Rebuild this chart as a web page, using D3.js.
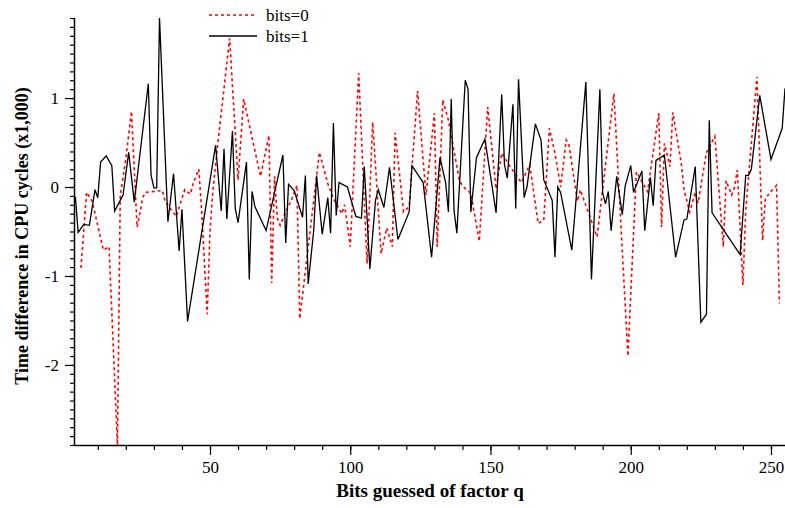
<!DOCTYPE html>
<html>
<head>
<meta charset="utf-8">
<script src="https://cdn.jsdelivr.net/npm/d3@7"></script>
<style>
  body { margin: 0; background: #fff; }
  text { font-family: "Liberation Serif", "Times New Roman", serif; }
</style>
</head>
<body>
<div id="root"></div>
<script>
// bits=0 (red dotted): [bit index, time difference x1000]
const bits0 = [[4,-0.91],[6,-0.06],[8,-0.16],[12,-0.71],[14,-0.67],[17,-2.9],[18,-0.10],[20,0.32],[22,0.85],
  [24,-0.45],[25,-0.30],[26,-0.12],[27,-0.06],[33,-0.04],[34,-0.16],[36,-0.25],[38,-0.33],[41,-0.03],[43,-0.08],
  [44,0.04],[46,0.20],[47,-0.25],[49,-1.43],[50,-0.5],[51,-0.05],[53,0.55],[57,1.67],[60,0.08],[62,0.99],[68,0.12],
  [71,0.58],[72,-1.08],[73,0.12],[74,-0.35],[75,-0.43],[77,-0.28],[79,-0.15],[81,0.02],[82,-1.48],[89,0.39],
  [92,0.04],[94,-0.13],[97,-0.30],[98,-0.20],[100,-0.67],[103,1.28],[106,-0.86],[108,0.73],[111,-0.75],[113,-0.46],
  [115,-0.67],[116,0.61],[119,-0.28],[121,-0.22],[124,1.08],[127,-0.09],[130,0.83],[131,-0.67],[133,0.98],[135,0.75],
  [139,0.06],[141,-0.02],[143,-0.07],[146,-0.61],[149,0.90],[152,-0.02],[154,0.38],[157,0.23],[161,0.05],[164,0.25],
  [167,-0.41],[169,-0.37],[171,0.66],[173,0.38],[175,0.0],[177,0.53],[178,0.47],[181,-0.16],[182,-0.03],[188,-0.56],
  [194,1.05],[199,-1.90],[202,0.17],[206,-0.05],[210,0.83],[211,-0.45],[212,0.49],[214,0.23],[215,0.84],[218,0.27],
  [219,-0.03],[221,-0.28],[223,-0.06],[224,-0.18],[227,0.39],[230,0.57],[233,-0.67],[234,0.07],[236,-0.09],[237,0.00],
  [238,0.19],[240,-1.10],[241,-0.26],[245,1.24],[247,-0.60],[248,-0.13],[250,-0.05],[252,0.02],[253,-1.31]];

// bits=1 (black solid)
const bits1 = [[2,-0.11],[3,-0.51],[5,-0.42],[7,-0.43],[9,-0.03],[10,-0.12],[11,0.28],[13,0.35],[15,0.24],[16,-0.27],
  [19,-0.09],[21,0.39],[23,-0.17],[28,1.16],[29,0.13],[30,-0.01],[31,-0.01],[32,1.9],[35,-0.39],[37,0.15],[39,-0.72],
  [40,-0.25],[42,-1.51],[52,0.47],[54,-0.27],[55,0.43],[56,-0.36],[58,0.63],[59,-0.24],[60,-0.40],[63,0.28],[64,-1.04],
  [65,-0.05],[66,-0.22],[70,-0.49],[76,0.36],[77,-0.63],[78,0.03],[80,-0.04],[83,-0.34],[84,0.13],[85,-1.09],[87,-0.48],
  [88,0.13],[90,-0.53],[92,-0.12],[93,-0.52],[94,0.72],[95,-0.32],[96,0.05],[99,0.00],[102,-0.33],[104,-0.35],[105,0.23],
  [107,-0.92],[109,-0.15],[110,-0.03],[112,-0.23],[114,0.22],[117,-0.59],[121,-0.28],[122,0.24],[126,0.05],[129,-0.79],
  [132,0.33],[134,0.05],[135,-0.28],[136,0.99],[137,-0.26],[138,-0.52],[141,1.20],[142,1.10],[143,-0.28],[145,0.33],
  [148,0.54],[152,-0.29],[154,1.04],[155,0.25],[156,0.10],[158,0.93],[159,-0.24],[160,1.21],[162,-0.12],[163,0.00],
  [166,0.71],[168,0.53],[169,0.08],[172,-0.15],[173,-0.79],[174,0.00],[175,-0.06],[179,-0.71],[184,1.18],[186,-1.04],
  [189,1.10],[190,-0.07],[191,-0.19],[192,-0.05],[193,-0.49],[195,0.12],[197,-0.31],[198,0.01],[200,0.24],[201,-0.06],
  [204,0.18],[205,-0.49],[207,0.11],[208,-0.21],[209,0.30],[212,0.36],[216,-0.79],[219,-0.37],[220,-0.36],[223,0.23],
  [225,-1.52],[227,-1.43],[228,0.75],[229,-0.29],[239,-0.76],[241,0.13],[242,0.13],[243,0.20],[246,1.03],[250,0.31],
  [254,0.66],[255,1.11]];

const xTicks = [50, 100, 150, 200, 250];
const yTicks = [-2, -1, 0, 1];
const legendLabels = ["bits=0", "bits=1"];
const xTitle = "Bits guessed of factor q";
const yTitle = "Time difference in CPU cycles (x1,000)";

const w = 785;
const h = 508;
const plotL = 75, plotR = 785, plotT = 18, plotB = 445;
const serif = '"Liberation Serif", "Times New Roman", serif';

const svg = d3.select("#root")
    .append("svg")
    .attr("width", w)
    .attr("height", h);

const x = d3.scaleLinear().domain([1.87, 255]).range([plotL, plotR]);
const y = d3.scaleLinear().domain([-2.9, 1.9]).range([plotB, plotT]);

svg.append("clipPath")
    .attr("id", "plot-clip")
    .append("rect")
    .attr("x", plotL)
    .attr("y", plotT - 1)
    .attr("width", plotR - plotL)
    .attr("height", plotB - plotT + 1);

const line = d3.line()
    .x(d => x(d[0]))
    .y(d => y(d[1]));

const plot = svg.append("g").attr("clip-path", "url(#plot-clip)");

plot.append("path")
    .attr("d", line(bits0))
    .attr("fill", "none")
    .attr("stroke", "#ff0000")
    .attr("stroke-width", 1.6)
    .attr("stroke-dasharray", "3,3");

plot.append("path")
    .attr("d", line(bits1))
    .attr("fill", "none")
    .attr("stroke", "#000")
    .attr("stroke-width", 1.3);

// axes: minor ticks first, then major ticks with labels (plain hyphen for minus)
const fmt = d => String(d);

const xAxisG = svg.append("g").attr("transform", `translate(0,${plotB})`);
xAxisG.call(d3.axisBottom(x).tickValues(d3.range(10, 251, 10)).tickSize(5).tickFormat(""));
xAxisG.call(g => g.select(".domain").remove());
const xMajor = svg.append("g").attr("transform", `translate(0,${plotB})`)
    .call(d3.axisBottom(x).tickValues(xTicks).tickSize(10).tickPadding(6).tickFormat(fmt));
xMajor.select(".domain").attr("d", `M${plotL},0.5H${plotR}`);

const yMinorVals = d3.range(-29, 20).map(v => v / 10);
const yAxisG = svg.append("g").attr("transform", `translate(${plotL},0)`);
yAxisG.call(d3.axisLeft(y).tickValues(yMinorVals).tickSize(5).tickFormat(""));
yAxisG.call(g => g.select(".domain").remove());
const yMajor = svg.append("g").attr("transform", `translate(${plotL},0)`)
    .call(d3.axisLeft(y).tickValues(yTicks).tickSize(10).tickPadding(6).tickFormat(fmt));
yMajor.select(".domain").attr("d", `M-0.5,${plotT}V${plotB}`);

svg.selectAll(".tick text")
    .style("font-family", serif)
    .style("font-size", "17px")
    .attr("fill", "#000");
svg.selectAll(".tick line").attr("stroke", "#000").attr("stroke-width", 1.2);
svg.selectAll(".domain").attr("stroke", "#000").attr("stroke-width", 1.5);

svg.append("text")
    .attr("x", 430)
    .attr("y", 497)
    .attr("text-anchor", "middle")
    .style("font-family", serif)
    .style("font-size", "19px")
    .style("font-weight", "bold")
    .text(xTitle);

svg.append("text")
    .attr("transform", "translate(28,236) rotate(-90)")
    .attr("text-anchor", "middle")
    .style("font-family", serif)
    .style("font-size", "18px")
    .style("font-weight", "bold")
    .text(yTitle);

// legend
const legend = svg.append("g").attr("transform", "translate(209,0)");
const legendRows = [
    { label: legendLabels[0], color: "#ff0000", dash: "3,3", width: 1.6, y: 15 },
    { label: legendLabels[1], color: "#000", dash: null, width: 1.3, y: 36 }
];
legendRows.forEach(r => {
    legend.append("line")
        .attr("x1", 0).attr("x2", 48)
        .attr("y1", r.y).attr("y2", r.y)
        .attr("stroke", r.color)
        .attr("stroke-width", r.width)
        .attr("stroke-dasharray", r.dash);
    legend.append("text")
        .attr("x", 57)
        .attr("y", r.y + 6)
        .style("font-family", serif)
        .style("font-size", "17px")
        .text(r.label);
});
</script>
</body>
</html>
